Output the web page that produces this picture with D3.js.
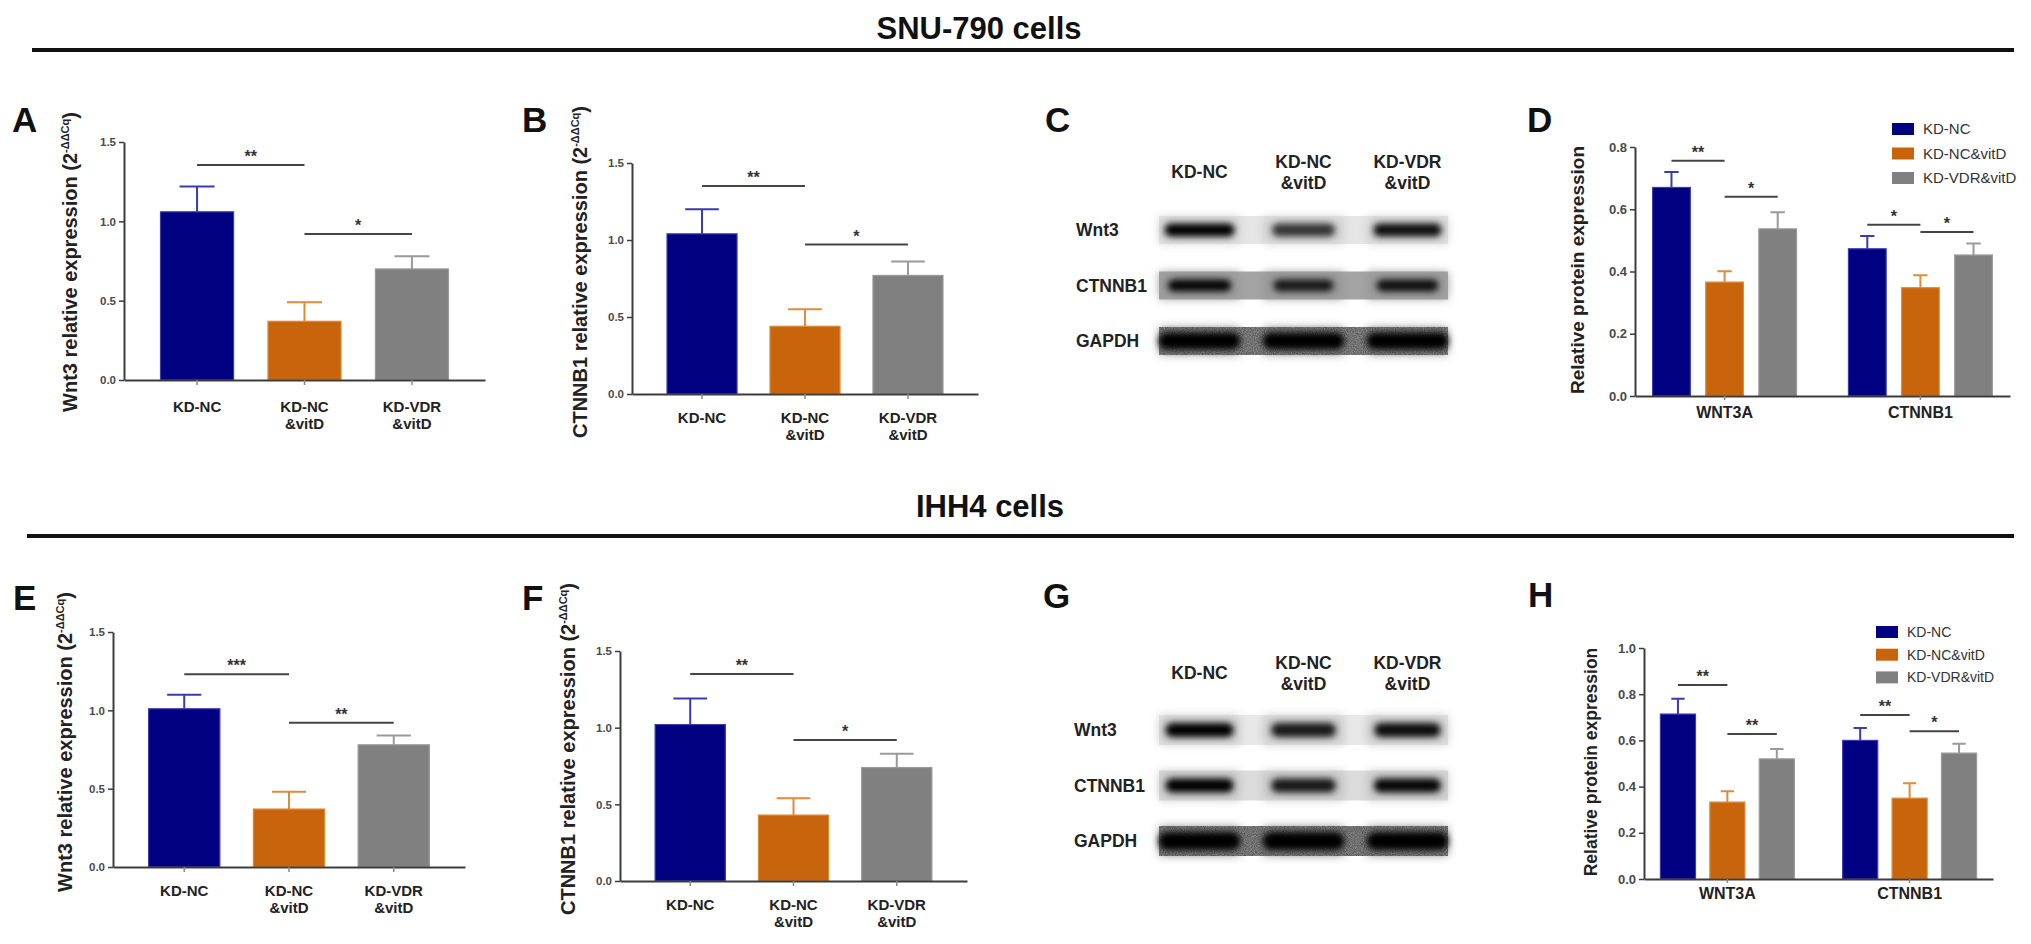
<!DOCTYPE html>
<html>
<head>
<meta charset="utf-8">
<script src="https://cdn.jsdelivr.net/npm/d3@7"></script>
<style>
  body { margin: 0; background: #fff; }
  svg { display: block; }
  text { font-family: "Liberation Sans", Arial, Helvetica, sans-serif; }
</style>
</head>
<body>
<svg id="fig" width="2031" height="944"></svg>
<script>
// categories
const groups = ['KD-NC', 'KD-NC&vitD', 'KD-VDR&vitD']
const groupLines = [['KD-NC'], ['KD-NC', '&vitD'], ['KD-VDR', '&vitD']]
const proteins = ['WNT3A', 'CTNNB1']
const blotRows = ['Wnt3', 'CTNNB1', 'GAPDH']
const barColors = ['#000080', '#c8640c', '#808080']
const barEdges = ['#3b3bb0', '#e08a3a', '#9a9a9a']

// tick labels
const qpcrTicks = [0, 0.5, 1.0, 1.5]
const protTicksD = [0, 0.2, 0.4, 0.6, 0.8]
const protTicksH = [0, 0.2, 0.4, 0.6, 0.8, 1.0]

// qPCR, SNU-790 cells (A, B)
const snuWnt3Mean = [1.06, 0.37, 0.70]
const snuWnt3Sem = [0.16, 0.12, 0.08]
const snuCtnnb1Mean = [1.04, 0.44, 0.77]
const snuCtnnb1Sem = [0.16, 0.11, 0.09]

// qPCR, IHH4 cells (E, F)
const ihhWnt3Mean = [1.01, 0.37, 0.78]
const ihhWnt3Sem = [0.09, 0.11, 0.06]
const ihhCtnnb1Mean = [1.02, 0.43, 0.74]
const ihhCtnnb1Sem = [0.17, 0.11, 0.09]

// western blot quantification, SNU-790 (D)
const snuWnt3aProt = [0.67, 0.366, 0.537]
const snuWnt3aProtSem = [0.05, 0.035, 0.053]
const snuCtnnb1Prot = [0.473, 0.348, 0.453]
const snuCtnnb1ProtSem = [0.041, 0.04, 0.037]

// western blot quantification, IHH4 (H)
const ihhWnt3aProt = [0.714, 0.333, 0.52]
const ihhWnt3aProtSem = [0.066, 0.047, 0.043]
const ihhCtnnb1Prot = [0.60, 0.35, 0.545]
const ihhCtnnb1ProtSem = [0.054, 0.065, 0.04]

// significance marks: [from group, to group, height, label]
const sigA = [[0, 1, 1.355, '**'], [1, 2, 0.92, '*']]
const sigB = [[0, 1, 1.35, '**'], [1, 2, 0.97, '*']]
const sigE = [[0, 1, 1.23, '***'], [1, 2, 0.92, '**']]
const sigF = [[0, 1, 1.35, '**'], [1, 2, 0.92, '*']]
// grouped: [protein, from group, to group, height, label]
const sigD = [[0, 0, 1, 0.756, '**'], [0, 1, 2, 0.64, '*'], [1, 0, 1, 0.55, '*'], [1, 1, 2, 0.527, '*']]
const sigH = [[0, 0, 1, 0.84, '**'], [0, 1, 2, 0.628, '**'], [1, 0, 1, 0.71, '**'], [1, 1, 2, 0.64, '*']]

// blot band intensity, rows x lanes (C, G)
const blotC = [[1.0, 0.6, 0.9], [0.95, 0.75, 0.85], [1.0, 1.0, 1.0]]
const blotG = [[1.0, 0.8, 0.9], [1.0, 0.8, 0.95], [1.0, 1.0, 1.0]]

const svg = d3.select('#fig')
const AXIS = '#3c3c3c'
const TICKTXT = '#4a4a4a'

const defs = svg.append('defs')
defs.append('filter').attr('id', 'soft').attr('x', '-30%').attr('y', '-80%').attr('width', '160%').attr('height', '260%')
  .append('feGaussianBlur').attr('stdDeviation', 3.2)
defs.append('filter').attr('id', 'softer').attr('x', '-20%').attr('y', '-50%').attr('width', '140%').attr('height', '200%')
  .append('feGaussianBlur').attr('stdDeviation', 5)
const grain = defs.append('filter').attr('id', 'grain')
  .attr('x', 0).attr('y', 0).attr('width', 1).attr('height', 1)
grain.append('feTurbulence').attr('type', 'fractalNoise').attr('baseFrequency', 0.9).attr('numOctaves', 2).attr('seed', 3).attr('result', 'n')
grain.append('feColorMatrix').attr('in', 'n').attr('type', 'matrix')
  .attr('values', '0 0 0 0 0  0 0 0 0 0  0 0 0 0 0  0 0 0 -1.1 0.9').attr('result', 'a')
grain.append('feComposite').attr('in', 'a').attr('in2', 'SourceGraphic').attr('operator', 'in')

// section headers
const header = (text, cx, by, ly, lx0) => {
  svg.append('text').attr('x', cx).attr('y', by).attr('text-anchor', 'middle')
    .attr('font-size', 31).attr('font-weight', 'bold').attr('fill', '#111').text(text)
  svg.append('line').attr('x1', lx0).attr('x2', 2014).attr('y1', ly).attr('y2', ly)
    .attr('stroke', '#111').attr('stroke-width', 4)
}
header('SNU-790 cells', 979, 39, 50, 32)
header('IHH4 cells', 990, 517, 536, 27)

const letter = (t, x, y) => svg.append('text').attr('x', x).attr('y', y)
  .attr('font-size', 35).attr('font-weight', 'bold').attr('fill', '#111').text(t)

const yTitle = (g, gene, x, y, size) => {
  const t = g.append('text').attr('transform', `translate(${x},${y}) rotate(-90)`)
    .attr('text-anchor', 'middle').attr('font-size', size).attr('font-weight', 'bold').attr('fill', '#222')
  t.append('tspan').text(gene)
  if (gene.indexOf('relative expression') >= 0) {
    t.append('tspan').text(' (2')
    t.append('tspan').attr('font-size', size * 0.55).attr('dy', -size * 0.42).text('-ΔΔCq')
    t.append('tspan').attr('dy', size * 0.42).text(')')
  }
}

const styleAxis = (ax, fs) => {
  ax.select('.domain').attr('stroke', AXIS).attr('stroke-width', 2)
  ax.selectAll('.tick line').attr('stroke', AXIS).attr('stroke-width', 1.5)
  ax.selectAll('.tick text').attr('fill', TICKTXT).attr('font-size', fs).attr('font-weight', 'bold')
    .attr('font-family', '"Liberation Sans", Arial, sans-serif')
}

const sigMark = (g, xa, xb, yy, label) => {
  g.append('line').attr('x1', xa).attr('x2', xb).attr('y1', yy).attr('y2', yy)
    .attr('stroke', '#444').attr('stroke-width', 2)
  g.append('text').attr('x', (xa + xb) / 2).attr('y', yy - 3).attr('text-anchor', 'middle')
    .attr('font-size', 16).attr('font-weight', 'bold').attr('fill', '#333').text(label)
}

// qPCR bar panels
const qpcrPanel = (o) => {
  const g = svg.append('g')
  letter(o.letter, o.lx, o.ly)
  const x = d3.scaleBand().domain(groups).range([o.x0, o.x1]).paddingInner(0.32).paddingOuter(0.34)
  const y = d3.scaleLinear().domain([0, 1.5]).range([o.yBot, o.yTop])
  const bw = x.bandwidth()
  const rows = groups.map((k, i) => ({ k, i, m: o.mean[i], s: o.sem[i] }))

  g.selectAll('.bar').data(rows).enter().append('rect')
    .attr('x', d => x(d.k)).attr('width', bw)
    .attr('y', d => y(d.m)).attr('height', d => y(0) - y(d.m))
    .attr('fill', d => barColors[d.i]).attr('stroke', d => barEdges[d.i]).attr('stroke-width', 1.2)
  g.selectAll('.err').data(rows).enter().append('path')
    .attr('d', d => {
      const cx = x(d.k) + bw / 2
      const c = bw * 0.24
      return `M${cx},${y(d.m)}V${y(d.m + d.s)}M${cx - c},${y(d.m + d.s)}H${cx + c}`
    })
    .attr('fill', 'none').attr('stroke', d => barEdges[d.i]).attr('stroke-width', 2)

  const ax = g.append('g').attr('transform', `translate(${o.x0},0)`)
    .call(d3.axisLeft(y).tickValues(qpcrTicks).tickFormat(d3.format('.1f')).tickSize(5).tickSizeOuter(0).tickPadding(3))
  styleAxis(ax, 11.5)
  const bx = g.append('g').attr('transform', `translate(0,${o.yBot})`)
    .call(d3.axisBottom(x).tickSize(5).tickSizeOuter(0).tickFormat(''))
  styleAxis(bx, 11.5)
  bx.selectAll('.tick line').attr('stroke', '#888')

  groups.forEach((k, i) => {
    const t = g.append('text').attr('x', x(k) + bw / 2).attr('y', o.catY).attr('text-anchor', 'middle')
      .attr('font-size', 15).attr('font-weight', 'bold').attr('fill', '#222')
    groupLines[i].forEach((ln, j) => t.append('tspan').attr('x', x(k) + bw / 2).attr('dy', j ? 17 : 0).text(ln))
  })

  o.sig.forEach(([a, b, h, lab]) => sigMark(g, x(groups[a]) + bw / 2, x(groups[b]) + bw / 2, y(h), lab))
  yTitle(g, o.gene + ' relative expression', o.tx, o.ty, 20)
}

qpcrPanel({ letter: 'A', lx: 12, ly: 132, x0: 124, x1: 485, yTop: 142, yBot: 380, mean: snuWnt3Mean, sem: snuWnt3Sem, sig: sigA, gene: 'Wnt3', tx: 77, ty: 262, catY: 412 })
qpcrPanel({ letter: 'B', lx: 522, ly: 132, x0: 632, x1: 978, yTop: 163, yBot: 394, mean: snuCtnnb1Mean, sem: snuCtnnb1Sem, sig: sigB, gene: 'CTNNB1', tx: 587, ty: 272, catY: 423 })
qpcrPanel({ letter: 'E', lx: 13, ly: 610, x0: 113, x1: 465, yTop: 632, yBot: 867, mean: ihhWnt3Mean, sem: ihhWnt3Sem, sig: sigE, gene: 'Wnt3', tx: 72, ty: 742, catY: 896 })
qpcrPanel({ letter: 'F', lx: 522, ly: 610, x0: 620, x1: 967, yTop: 651, yBot: 881, mean: ihhCtnnb1Mean, sem: ihhCtnnb1Sem, sig: sigF, gene: 'CTNNB1', tx: 575, ty: 749, catY: 910 })

// grouped protein panels
const protPanel = (o) => {
  const g = svg.append('g')
  letter(o.letter, o.lx, o.ly)
  const x0 = d3.scaleBand().domain(proteins).range([o.x0, o.x1]).paddingInner(0.265).paddingOuter(0.09)
  const x1 = d3.scaleBand().domain(groups).range([0, x0.bandwidth()]).paddingInner(0.29)
  const y = d3.scaleLinear().domain([0, o.yMax]).range([o.yBot, o.yTop])
  const bw = x1.bandwidth()
  const rows = []
  proteins.forEach((p, pi) => groups.forEach((k, i) => rows.push({ p, k, i, m: o.mean[pi][i], s: o.sem[pi][i] })))
  const bx = d => x0(d.p) + x1(d.k)

  g.selectAll('.bar').data(rows).enter().append('rect')
    .attr('x', bx).attr('width', bw)
    .attr('y', d => y(d.m)).attr('height', d => y(0) - y(d.m))
    .attr('fill', d => barColors[d.i]).attr('stroke', d => barEdges[d.i]).attr('stroke-width', 1.2)
  g.selectAll('.err').data(rows).enter().append('path')
    .attr('d', d => {
      const cx = bx(d) + bw / 2
      const c = bw * 0.19
      return `M${cx},${y(d.m)}V${y(d.m + d.s)}M${cx - c},${y(d.m + d.s)}H${cx + c}`
    })
    .attr('fill', 'none').attr('stroke', d => barEdges[d.i]).attr('stroke-width', 2)

  const ax = g.append('g').attr('transform', `translate(${o.x0},0)`)
    .call(d3.axisLeft(y).tickValues(o.ticks).tickFormat(d3.format('.1f')).tickSize(5).tickSizeOuter(0).tickPadding(3))
  styleAxis(ax, 13)
  const xb = g.append('g').attr('transform', `translate(0,${o.yBot})`)
    .call(d3.axisBottom(x0).tickSize(4).tickSizeOuter(0).tickFormat(''))
  styleAxis(xb, 13)
  xb.selectAll('.tick line').attr('stroke', '#888')

  proteins.forEach(p => g.append('text').attr('x', x0(p) + x0.bandwidth() / 2).attr('y', o.catY)
    .attr('text-anchor', 'middle').attr('font-size', 16).attr('font-weight', 'bold').attr('fill', '#222').text(p))

  o.sig.forEach(([p, a, b, h, lab]) => sigMark(g,
    x0(proteins[p]) + x1(groups[a]) + bw / 2, x0(proteins[p]) + x1(groups[b]) + bw / 2, y(h), lab))

  yTitle(g, 'Relative protein expression', o.tx, o.ty, o.tSize)

  const lg = g.append('g').attr('transform', `translate(${o.legX},${o.legY})`)
  groups.forEach((k, i) => {
    lg.append('rect').attr('x', 0).attr('y', i * o.legStep).attr('width', 22).attr('height', 12).attr('fill', barColors[i])
    lg.append('text').attr('x', 31).attr('y', i * o.legStep + 11).attr('font-size', o.legSize)
      .attr('fill', '#333').text(k)
  })
}

protPanel({ letter: 'D', lx: 1527, ly: 132, x0: 1635, x1: 2010, yTop: 147, yBot: 396, yMax: 0.8, ticks: protTicksD,
  mean: [snuWnt3aProt, snuCtnnb1Prot], sem: [snuWnt3aProtSem, snuCtnnb1ProtSem], sig: sigD, catY: 418,
  tx: 1584, ty: 270, tSize: 19, legX: 1892, legY: 123, legStep: 24.5, legSize: 15 })
protPanel({ letter: 'H', lx: 1528, ly: 607, x0: 1644, x1: 1993, yTop: 648, yBot: 879, yMax: 1.0, ticks: protTicksH,
  mean: [ihhWnt3aProt, ihhCtnnb1Prot], sem: [ihhWnt3aProtSem, ihhCtnnb1ProtSem], sig: sigH, catY: 899,
  tx: 1597, ty: 762, tSize: 17.5, legX: 1876, legY: 626, legStep: 22.7, legSize: 14 })

// western blot panels
const blotPanel = (o) => {
  const g = svg.append('g')
  letter(o.letter, o.lx, o.ly)
  const lane = d3.scalePoint().domain(groups).range([1159, 1448]).padding(0.39)
  const row = d3.scaleBand().domain(blotRows).range([o.y0, o.y1]).paddingInner(o.rowPad)
  const rh = row.bandwidth()

  groups.forEach((k, i) => {
    const t = g.append('text').attr('x', lane(k)).attr('text-anchor', 'middle')
      .attr('font-size', 17.5).attr('font-weight', 'bold').attr('fill', '#222')
    if (groupLines[i].length === 1) t.attr('y', o.colY + 6).text(groupLines[i][0])
    else groupLines[i].forEach((ln, j) => t.append('tspan').attr('x', lane(k)).attr('y', o.colY - 10 + 6 + j * 21).text(ln))
  })

  blotRows.forEach((r, ri) => {
    const ry = row(r)
    g.append('text').attr('x', o.labX).attr('y', ry + rh / 2 + 6).attr('font-size', 17.5)
      .attr('font-weight', 'bold').attr('fill', '#222').text(r)
    g.append('rect').attr('x', 1159).attr('y', ry).attr('width', 289).attr('height', rh).attr('fill', o.bg[ri])
    groups.forEach((k, li) => {
      g.append('rect').attr('x', lane(k) - 40).attr('y', ry + 1).attr('width', 80).attr('height', rh - 2)
        .attr('fill', o.laneBg[ri]).attr('filter', 'url(#softer)')
    })
    if (ri === 2) {
      g.append('rect').attr('x', 1159).attr('y', ry).attr('width', 289).attr('height', rh)
        .attr('fill', '#000').attr('filter', 'url(#grain)').attr('opacity', 0.55)
    }
    groups.forEach((k, li) => {
      const v = o.bands[ri][li]
      const w = o.bandW[ri] * (0.75 + 0.25 * v)
      g.append('rect').attr('x', lane(k) - w / 2).attr('y', ry + rh / 2 - o.bandH[ri] / 2)
        .attr('width', w).attr('height', o.bandH[ri]).attr('rx', o.bandH[ri] / 2)
        .attr('fill', '#050505').attr('opacity', 0.35 + 0.65 * v).attr('filter', 'url(#soft)')
    })
  })
}

blotPanel({ letter: 'C', lx: 1045, ly: 132, colY: 172, labX: 1076, y0: 216, y1: 355, rowPad: 0.495,
  bands: blotC, bg: ['#e6e6e6', '#a4a4a4', '#8e8e8e'], laneBg: ['#cdcdcd', '#979797', '#8a8a8a'],
  bandW: [70, 64, 82], bandH: [13, 12, 17] })
blotPanel({ letter: 'G', lx: 1043, ly: 608, colY: 673, labX: 1074, y0: 715, y1: 856, rowPad: 0.46,
  bands: blotG, bg: ['#e8e8e8', '#dcdcdc', '#8c8c8c'], laneBg: ['#c6c6c6', '#c2c2c2', '#868686'],
  bandW: [68, 68, 82], bandH: [14, 14, 18] })
</script>
</body>
</html>
